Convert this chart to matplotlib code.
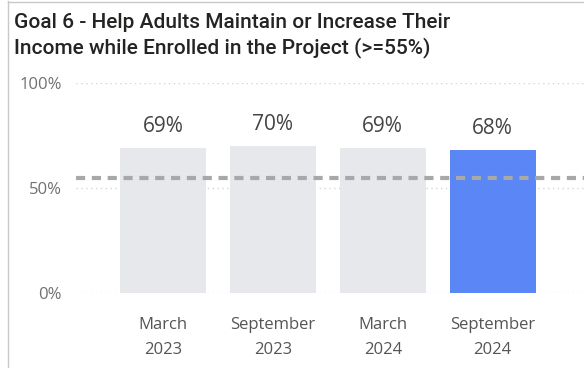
import matplotlib.pyplot as plt
from matplotlib.lines import Line2D

periods = ['March\n2023', 'September\n2023', 'March\n2024', 'September\n2024']
rates = [0.69, 0.70, 0.69, 0.68]
labels = ['69%', '70%', '69%', '68%']
target = 0.55
bar_colors = ['#e6e8eb', '#e6e8eb', '#e6e8eb', '#5b86f6']
title_lines = ['Goal 6 - Help Adults Maintain or Increase Their',
               'Income while Enrolled in the Project (>=55%)']

fig = plt.figure(figsize=(5.84, 3.68), dpi=100)
ax = fig.add_axes([76/584, 75/368, 1 - 76/584, 210/368])

x = range(len(periods))
ax.bar(x, rates, width=0.78, color=bar_colors, zorder=2)
for i, t in enumerate(labels):
    ax.text(i, rates[i] + 0.077, t, ha='center', va='baseline', fontsize=15,
            color='#444444', family='Open Sans')

# goal line
ax.axhline(target, color='#a8a8a8', lw=3, ls=(0, (2.2, 1.6)), zorder=3)

ax.set_ylim(0, 1)
ax.set_xlim(-0.79, 3.83)
ax.set_yticks([0, 0.5, 1])
ax.set_yticklabels(['0%', '50%', '100%'], family='Open Sans', fontsize=12, color='#707070')
ax.set_xticks(list(x))
ax.set_xticklabels(periods, family='Open Sans', fontsize=12, color='#555555',
                   linespacing=1.8)
ax.tick_params(length=0, axis='y', pad=10)
ax.tick_params(length=0, axis='x', pad=17)
ax.grid(axis='y', color='#d4d4d4', ls=(0, (1, 2.5)), lw=1, zorder=0)
for s in ax.spines.values():
    s.set_visible(False)

for k, line in enumerate(title_lines):
    fig.text(14/584, 1 - (28 + 25*k)/368, line, ha='left', va='baseline',
             fontsize=15, color='#252423', family='Roboto', weight='medium')

# card border
fig.add_artist(Line2D([7.5/584, 7.5/584], [0, 1 - 1/368], color='#c8c8c8', lw=1))
fig.add_artist(Line2D([7.5/584, 1], [1 - 1.5/368, 1 - 1.5/368], color='#c8c8c8', lw=1))

fig.savefig('out.png', dpi=100)
